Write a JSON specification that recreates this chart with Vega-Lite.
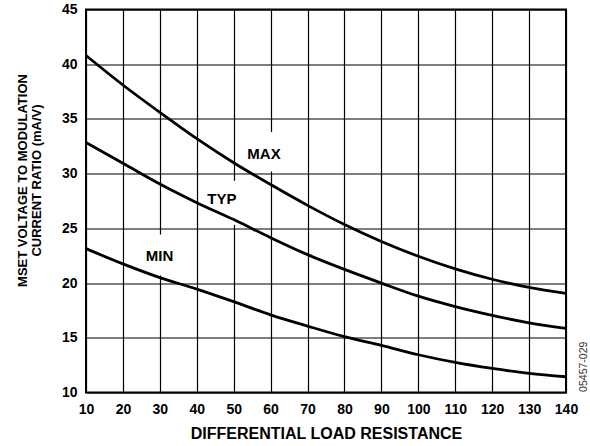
{
  "$schema": "https://vega.github.io/schema/vega-lite/v6.json",
  "width": 480,
  "height": 383,
  "autosize": {"type": "none"},
  "padding": {"left": 86, "top": 9.5, "right": 24, "bottom": 53.5},
  "background": "white",
  "config": {
    "view": {"stroke": "black", "strokeWidth": 2},
    "font": "Liberation Sans",
    "axis": {
      "domain": false,
      "ticks": false,
      "grid": true,
      "gridColor": "black",
      "gridWidth": 1.2,
      "gridOpacity": 1,
      "labelFont": "Liberation Sans",
      "labelFontWeight": "bold",
      "labelFontSize": 14,
      "labelColor": "black",
      "labelPadding": 9,
      "titleFont": "Liberation Sans",
      "titleFontWeight": "bold",
      "titleColor": "black"
    }
  },
  "encoding": {
    "x": {
      "field": "x",
      "type": "quantitative",
      "scale": {"domain": [10, 140], "nice": false, "zero": false},
      "axis": {
        "values": [10, 20, 30, 40, 50, 60, 70, 80, 90, 100, 110, 120, 130, 140],
        "title": "DIFFERENTIAL LOAD RESISTANCE",
        "titleFontSize": 16,
        "titleBaseline": "alphabetic",
        "titleY": 46,
        "labelPadding": 10,
        "labelFlush": false,
        "labelOverlap": false
      }
    },
    "y": {
      "field": "y",
      "type": "quantitative",
      "scale": {"domain": [10, 45], "nice": false, "zero": false},
      "axis": {
        "values": [10, 15, 20, 25, 30, 35, 40, 45],
        "title": ["MSET VOLTAGE TO MODULATION", "CURRENT RATIO (mA/V)"],
        "titleFontSize": 13,
        "titleLineHeight": 14,
        "titleBaseline": "alphabetic",
        "titleX": -60,
        "titleY": 170.5,
        "titleAlign": "center",
        "titleAngle": -90,
        "labelFlush": false,
        "labelOverlap": false
      }
    }
  },
  "layer": [
    {
      "data": {
        "values": [
          {"label": "MAX", "x": 51.7, "x2": 64.8, "y": 30.2, "y2": 33.8},
          {"label": "TYP", "x": 40.9, "x2": 52.5, "y": 25.3, "y2": 29.35},
          {"label": "MIN", "x": 24.6, "x2": 35.5, "y": 20.7, "y2": 24.45}
        ]
      },
      "mark": {"type": "rect", "fill": "white", "stroke": null},
      "encoding": {
        "x2": {"field": "x2"},
        "y2": {"field": "y2"}
      }
    },
    {
      "data": {
        "values": [
          {"series": "MAX", "x": 10, "y": 40.8},
          {"series": "MAX", "x": 20, "y": 38.1},
          {"series": "MAX", "x": 30, "y": 35.6},
          {"series": "MAX", "x": 40, "y": 33.2},
          {"series": "MAX", "x": 50, "y": 31.0},
          {"series": "MAX", "x": 60, "y": 29.0},
          {"series": "MAX", "x": 70, "y": 27.1},
          {"series": "MAX", "x": 80, "y": 25.35},
          {"series": "MAX", "x": 90, "y": 23.8},
          {"series": "MAX", "x": 100, "y": 22.45},
          {"series": "MAX", "x": 110, "y": 21.3},
          {"series": "MAX", "x": 120, "y": 20.35},
          {"series": "MAX", "x": 130, "y": 19.6},
          {"series": "MAX", "x": 140, "y": 19.05},
          {"series": "TYP", "x": 10, "y": 32.85},
          {"series": "TYP", "x": 20, "y": 30.95},
          {"series": "TYP", "x": 30, "y": 29.05},
          {"series": "TYP", "x": 40, "y": 27.35},
          {"series": "TYP", "x": 50, "y": 25.8},
          {"series": "TYP", "x": 60, "y": 24.15},
          {"series": "TYP", "x": 70, "y": 22.6},
          {"series": "TYP", "x": 80, "y": 21.25},
          {"series": "TYP", "x": 90, "y": 20.0},
          {"series": "TYP", "x": 100, "y": 18.8},
          {"series": "TYP", "x": 110, "y": 17.85},
          {"series": "TYP", "x": 120, "y": 17.05},
          {"series": "TYP", "x": 130, "y": 16.37},
          {"series": "TYP", "x": 140, "y": 15.86},
          {"series": "MIN", "x": 10, "y": 23.15},
          {"series": "MIN", "x": 20, "y": 21.75},
          {"series": "MIN", "x": 30, "y": 20.5},
          {"series": "MIN", "x": 40, "y": 19.45},
          {"series": "MIN", "x": 50, "y": 18.3},
          {"series": "MIN", "x": 60, "y": 17.1},
          {"series": "MIN", "x": 70, "y": 16.07},
          {"series": "MIN", "x": 80, "y": 15.1},
          {"series": "MIN", "x": 90, "y": 14.3},
          {"series": "MIN", "x": 100, "y": 13.45},
          {"series": "MIN", "x": 110, "y": 12.75},
          {"series": "MIN", "x": 120, "y": 12.2},
          {"series": "MIN", "x": 130, "y": 11.75},
          {"series": "MIN", "x": 140, "y": 11.44}
        ]
      },
      "mark": {"type": "line", "color": "black", "strokeWidth": 2.8, "interpolate": "monotone"},
      "encoding": {
        "detail": {"field": "series", "type": "nominal"}
      }
    },
    {
      "data": {
        "values": [
          {"label": "MAX", "x": 58.2, "y": 31.75},
          {"label": "TYP", "x": 46.8, "y": 27.7},
          {"label": "MIN", "x": 29.9, "y": 22.5}
        ]
      },
      "mark": {"type": "text", "font": "Liberation Sans", "fontWeight": "bold", "fontSize": 15, "color": "black", "align": "center", "baseline": "middle"},
      "encoding": {
        "text": {"field": "label", "type": "nominal"}
      }
    },
    {
      "data": {
        "values": [
          {"label": "05457-029", "x": 144.9, "y": 12.35}
        ]
      },
      "mark": {"type": "text", "font": "Liberation Sans", "fontSize": 10.5, "color": "#333333", "align": "center", "baseline": "middle", "angle": 270},
      "encoding": {
        "text": {"field": "label", "type": "nominal"}
      }
    }
  ]
}
